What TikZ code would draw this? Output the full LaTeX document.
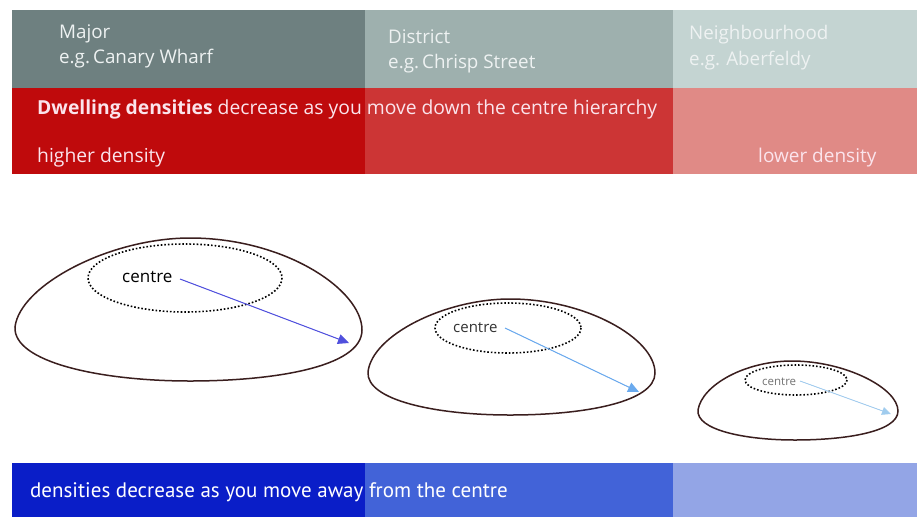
\documentclass[tikz,border=0pt]{standalone}
\usepackage{fontspec}
\setmainfont{Open Sans}
\newfontfamily\condfont{PT Sans}
\usetikzlibrary{arrows.meta}
\definecolor{greyA}{HTML}{6E8080}
\definecolor{greyB}{HTML}{9EB0AE}
\definecolor{greyC}{HTML}{C4D4D2}
\definecolor{redA}{HTML}{BF0A0C}
\definecolor{redB}{HTML}{CC3535}
\definecolor{redC}{HTML}{E08A86}
\definecolor{blueA}{HTML}{0A1EC8}
\definecolor{blueB}{HTML}{4263D8}
\definecolor{blueC}{HTML}{93A5E6}
\definecolor{greytext}{HTML}{EEF2F2}
\definecolor{redtext}{HTML}{FBE4EC}
\definecolor{rimcol}{HTML}{3A1E1E}
\definecolor{arrA}{HTML}{5050DD}
\definecolor{arrB}{HTML}{6AAAEE}
\definecolor{arrC}{HTML}{A0CCEE}
\definecolor{tipB}{HTML}{2244CC}
\definecolor{tipC}{HTML}{3366DD}
\tikzset{
  hdr/.style={anchor=base west, inner sep=0pt, text=greytext, font=\fontsize{18.8}{20}\selectfont, align=left},
  redlbl/.style={anchor=base west, inner sep=0pt, text=redtext, font=\fontsize{19.3}{21}\selectfont},
  rim/.style={draw=rimcol, line width=1.5pt},
  core/.style={draw=black, line width=1.6pt, dotted},
  ctr/.style={inner sep=0pt, anchor=base west},
  flow/.style={line width=1pt, -{Triangle[length=11pt,width=10pt]}}
}
\begin{document}
\begin{tikzpicture}[x=1pt,y=-1pt]
\useasboundingbox (0,0) rectangle (917,517);
\fill[white] (0,0) rectangle (917,517);
% grey header bands
\fill[greyA] (12,10) rectangle (365,88);
\fill[greyB] (365,10) rectangle (673,88);
\fill[greyC] (673,10) rectangle (917,88);
% red bands
\fill[redA] (12,88) rectangle (365,174);
\fill[redB] (365,88) rectangle (673,174);
\fill[redC] (673,88) rectangle (917,174);
% blue bands
\fill[blueA] (12,463) rectangle (365,517);
\fill[blueB] (365,463) rectangle (673,517);
\fill[blueC] (673,463) rectangle (917,517);
% header texts
\node[hdr] (major) at (59,38) {Major};
\node[hdr] (majorex) at (59,63) {e.g.\,Canary Wharf};
\node[hdr] (district) at (388,43) {District};
\node[hdr] (districtex) at (388,68) {e.g.\,Chrisp Street};
\node[hdr] (neigh) at (689,39) {Neighbourhood};
\node[hdr] (neighex) at (689,65) {e.g.\,\,Aberfeldy};
% red texts
\node[redlbl] (dwell) at (37,114) {\textbf{Dwelling densities} decrease as you move down the centre hierarchy};
\node[redlbl] (high) at (37,162) {higher density};
\node[redlbl, font=\fontsize{19}{21}\selectfont] (low) at (758,162) {lower density};
% blue text
\node[anchor=base west, inner sep=0pt, text=white, font=\condfont\fontsize{21}{23}\selectfont] (away) at (30,497) {densities decrease as you move away from the centre};
% big dome
\draw[rim] (15,327) .. controls (20,285) and (110,238) .. (190,238)
  .. controls (285,238) and (362,290) .. (362,330)
  .. controls (362,368) and (270,381) .. (190,381)
  .. controls (100,381) and (13,362) .. cycle;
\draw[core] (185,278) ellipse [x radius=97, y radius=34];
\node[ctr, font=\fontsize{17}{18}\selectfont] (c1) at (122,282) {centre};
\coordinate (s1) at (180,279);
\coordinate (e1) at (349,343);
\draw[flow, draw=arrA, fill=blue!85!black] (s1) -- (e1);
% middle dome
\draw[rim] (368,372) .. controls (372,335) and (445,299) .. (510,299)
  .. controls (585,299) and (655,338) .. (655,373)
  .. controls (655,402) and (585,415) .. (510,415)
  .. controls (435,415) and (366,400) .. cycle;
\draw[core] (508,328) ellipse [x radius=73, y radius=25];
\node[ctr, font=\fontsize{15}{16}\selectfont, text=black!80] (c2) at (453,332) {centre};
\coordinate (s2) at (505,328);
\coordinate (e2) at (639,392);
\draw[flow, draw=arrB, fill=tipB] (s2) -- (e2);
% small dome
\draw[rim] (698,410) .. controls (702,385) and (745,361) .. (792,361)
  .. controls (845,361) and (898,388) .. (898,411)
  .. controls (898,432) and (845,440) .. (795,440)
  .. controls (745,440) and (696,430) .. cycle;
\draw[core] (796,380) ellipse [x radius=51, y radius=15];
\node[ctr, font=\fontsize{11.5}{12}\selectfont, text=black!55] (c3) at (762,385) {centre};
\coordinate (s3) at (800,381);
\coordinate (e3) at (891,414);
\draw[flow, line width=0.8pt, draw=arrC, fill=tipC, -{Triangle[length=9pt,width=8pt]}] (s3) -- (e3);
\end{tikzpicture}
\end{document}
